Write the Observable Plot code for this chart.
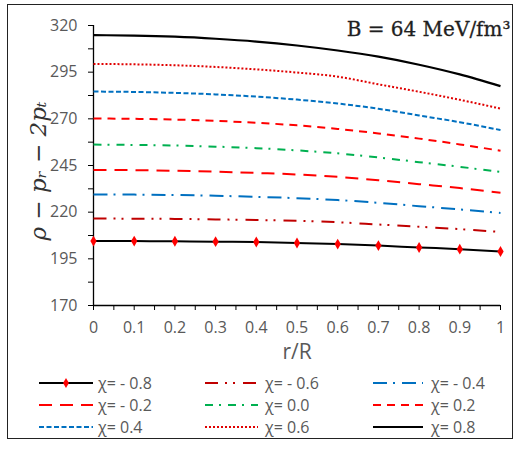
<!DOCTYPE html>
<html><head><meta charset="utf-8">
<script src="https://cdn.jsdelivr.net/npm/d3@7"></script>
<script src="https://cdn.jsdelivr.net/npm/@observablehq/plot@0.6"></script>
<style>
body{margin:0;width:525px;height:450px;position:relative;background:#fff;font-family:"Open Sans",sans-serif;overflow:hidden}
#frame{position:absolute;left:7px;top:4px;width:506px;height:435px;border:1.5px solid #222;box-sizing:border-box;pointer-events:none}
#chart{position:absolute;left:0;top:0}
#ylabel{position:absolute;left:38px;top:171px;width:0;height:0}
#ylabel span{position:absolute;left:0;top:0;transform:translate(-50%,-50%) rotate(-90deg);white-space:pre;
  font-family:"DejaVu Serif",serif;font-style:italic;font-size:23px;color:#333;line-height:1}
.item{position:absolute;display:flex;align-items:center;height:20px;font-size:16px;color:#595959;white-space:nowrap}
.item svg{display:block}
</style></head><body>
<div id="chart"></div><div id="ylabel"><span></span></div><div id="legend"></div><div id="frame"></div>
<script>
// ---- data ----
const rValues = [0, 0.1, 0.2, 0.3, 0.4, 0.5, 0.6, 0.7, 0.8, 0.9, 1];
const chiM08 = [204.5, 204.5, 204.4, 204.2, 204.0, 203.5, 202.9, 202.1, 201.1, 200.2, 198.9];
const chiM06 = [216.6, 216.5, 216.4, 216.1, 215.8, 215.4, 214.6, 213.4, 212.2, 210.9, 209.4];
const chiM04 = [229.5, 229.4, 229.2, 228.8, 228.2, 227.5, 226.5, 225.0, 223.2, 221.5, 219.6];
const chiM02 = [242.6, 242.5, 242.2, 241.7, 241.0, 240.2, 238.9, 237.1, 235.0, 232.9, 230.4];
const chi00  = [256.2, 256.0, 255.7, 255.1, 254.3, 253.1, 251.5, 249.3, 246.8, 244.3, 241.5];
const chiP02 = [270.2, 270.0, 269.6, 268.9, 267.9, 266.5, 264.6, 262.2, 259.4, 256.3, 252.9];
const chiP04 = [284.6, 284.4, 283.9, 283.1, 281.9, 280.3, 278.2, 275.4, 271.8, 268.2, 264.0];
const chiP06 = [299.4, 299.2, 298.7, 297.8, 296.5, 294.8, 292.6, 288.5, 284.5, 280.2, 275.5];
const chiP08 = [314.8, 314.6, 314.0, 312.9, 311.4, 309.3, 306.6, 303.3, 299.0, 293.8, 287.5];
const seriesLabels = ["χ= - 0.8", "χ= - 0.6", "χ= - 0.4", "χ= - 0.2", "χ= 0.0", "χ= 0.2", "χ= 0.4", "χ= 0.6", "χ= 0.8"];
const xTicks = [0, 0.05, 0.1, 0.15, 0.2, 0.25, 0.3, 0.35, 0.4, 0.45, 0.5, 0.55, 0.6, 0.65, 0.7, 0.75, 0.8, 0.85, 0.9, 0.95, 1];
const xTickLabels = ["0", "0.1", "0.2", "0.3", "0.4", "0.5", "0.6", "0.7", "0.8", "0.9", "1"];
const yTicks = [170, 182.5, 195, 207.5, 220, 232.5, 245, 257.5, 270, 282.5, 295, 307.5, 320];
const yTickLabels = [170, 195, 220, 245, 270, 295, 320];
const titleText = "B = 64 MeV/fm³";
const xLabel = "r/R";
const yLabel = "ρ − pᵣ − 2pₜ";

// ---- styles ----
const allValues = [chiM08, chiM06, chiM04, chiM02, chi00, chiP02, chiP04, chiP06, chiP08];
const styles = [
  {color: "#000000", dash: null, width: 2, marker: true},
  {color: "#C00000", dash: "13 7 2 6 2 8", width: 2},
  {color: "#0070C0", dash: "14 6 2 7", width: 2},
  {color: "#FF0000", dash: "13 8", width: 2},
  {color: "#00B050", dash: "8 6 2 7", width: 2},
  {color: "#FF0000", dash: "8 6", width: 2},
  {color: "#0070C0", dash: "5 2.5", width: 2},
  {color: "#E00000", dash: "2 2", width: 2},
  {color: "#000000", dash: null, width: 2.2}
];

const rows = allValues.flatMap((vals, k) => rValues.map((r, j) => ({r, v: vals[j], k})));

const lineMarks = styles.map((s, k) => Plot.line(rows.filter(d => d.k === k), {
  x: "r", y: "v", stroke: s.color, strokeWidth: s.width,
  strokeDasharray: s.dash || undefined, strokeLinecap: "butt", curve: "monotone-x"
}));

const chart = Plot.plot({
  width: 525, height: 370,
  marginLeft: 93, marginRight: 25, marginTop: 25, marginBottom: 65,
  style: {fontFamily: "'Open Sans', sans-serif", background: "transparent"},
  x: {domain: [0, 1]},
  y: {domain: [170, 320]},
  marks: [
    Plot.axisX({ticks: xTicks, tickFormat: d => (xTickLabels.includes(String(+d.toFixed(2))) ? String(+d.toFixed(2)) : ""),
      tickSize: 5, tickPadding: 11, fontSize: 16, color: "#595959", stroke: "#000", label: null}),
    Plot.axisY({ticks: yTicks, tickFormat: d => (yTickLabels.includes(d) ? String(d) : ""),
      tickSize: 5, tickPadding: 11, fontSize: 16, color: "#595959", stroke: "#000", label: null}),
    Plot.ruleX([0], {stroke: "#000", strokeWidth: 1.3}),
    Plot.ruleY([170], {stroke: "#000", strokeWidth: 1.3}),
    ...lineMarks,
    Plot.dot(rows.filter(d => d.k === 0), {x: "r", y: "v", symbol: "diamond", fill: "#FF0000", r: 3.3}),
    Plot.text([xLabel], {frameAnchor: "bottom", text: d => d, dy: 53, fontSize: 21, fill: "#595959"}),
    Plot.text([titleText], {frameAnchor: "top-right", text: d => d, dx: 10, dy: 4, lineAnchor: "middle",
      fontSize: 20, fontFamily: "'DejaVu Serif', serif", fill: "#1f1f1f", stroke: "#1f1f1f", strokeWidth: 0.3})
  ]
});
document.getElementById("chart").appendChild(chart);
document.querySelector("#ylabel span").textContent = yLabel;

// ---- legend ----
const colX = [39, 205, 373];
const sampleW = [54, 53, 50];
const gapW = [5, 7, 8];
const rowY = [383, 405, 427];
const legend = document.getElementById("legend");
seriesLabels.forEach((lab, i) => {
  const col = i % 3, row = Math.floor(i / 3);
  const s = styles[i];
  const div = document.createElement("div");
  div.className = "item";
  div.style.left = colX[col] + "px";
  div.style.top = (rowY[row] - 10) + "px";
  const w = sampleW[col];
  const svg = d3.create("svg").attr("width", w).attr("height", 12);
  svg.append("line").attr("x1", 0).attr("x2", w).attr("y1", 6).attr("y2", 6)
    .attr("stroke", s.color).attr("stroke-width", s.width)
    .attr("stroke-dasharray", s.dash);
  if (s.marker) {
    svg.append("path").attr("d", d3.symbol(d3.symbolDiamond, 30)())
      .attr("transform", `translate(${w / 2},6)`).attr("fill", "#FF0000");
  }
  div.appendChild(svg.node());
  const span = document.createElement("span");
  span.style.marginLeft = gapW[col] + "px";
  span.textContent = lab;
  div.appendChild(span);
  legend.appendChild(div);
});
</script>
</body></html>
